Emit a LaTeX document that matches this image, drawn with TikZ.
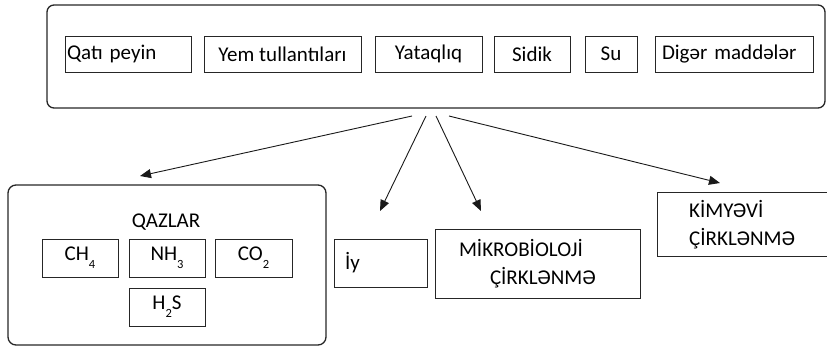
\documentclass[tikz,border=0pt]{standalone}
\usepackage{fontspec}
\setmainfont{Carlito}
\usetikzlibrary{arrows.meta}
% small lowered index for the gas formulas
\newcommand{\lowidx}[1]{\raisebox{-8pt}{\fontsize{12.5}{12.5}\selectfont #1}}
\begin{document}
\begin{tikzpicture}[x=1pt,y=-1pt,
		every node/.style={font=\fontsize{21}{28}\selectfont},
		grp/.style={draw=black!85,line width=1.3pt,rounded corners=7pt},
		item/.style={draw=black!85,line width=0.9pt,minimum height=36pt,inner ysep=0pt},
		arr/.style={-{Triangle[length=11pt,width=9pt]},line width=0.9pt,black!90}]
	\useasboundingbox (0,0) rectangle (827,346);
	% Sources: one rounded frame holding the six waste items
	\node[grp,minimum width=778pt,minimum height=103pt] (src) at (436,56.5) {};
	\node[item,minimum width=126pt,inner xsep=2pt,text width=122pt,align=left] (qati) at (128,54) {Qatı peyin};
	\foreach \nm/\cx/\w/\txt in {yem/282.5/157/Yem tullantıları, yataq/428.5/107/Yataqlıq,
		sidik/532/76/Sidik, su/611/52/Su} {
		\node[item,minimum width=\w pt] (\nm) at (\cx,54) {\txt};
	}
	\node[item,minimum width=158pt,inner xsep=7pt,text width=144pt,align=left] (diger) at (734,54) {Digər maddələr};
	% Results: gases, smell, microbiological and chemical pollution
	\node[grp,minimum width=318pt,minimum height=160pt,rounded corners=8pt] (qaz) at (167,265) {};
	\node (qazlar) at (166,222) {QAZLAR};
	\node[item,minimum width=76pt,minimum height=38pt] (ch4) at (80,258) {CH\lowidx{4}};
	\node[item,minimum width=76pt,minimum height=38pt] (nh3) at (167,258) {NH\lowidx{3}};
	\node[item,minimum width=77pt,minimum height=38pt] (co2) at (253.5,258) {CO\lowidx{2}};
	\node[item,minimum width=76pt,minimum height=38pt] (h2s) at (167,307) {H\lowidx{2}S};
	\node[item,minimum width=93pt,minimum height=48pt,inner xsep=11pt,text width=71pt,align=left] (iy) at (380.5,263) {İy};
	\node[item,minimum width=205pt,minimum height=69pt,inner xsep=24pt,text width=157pt,align=left] (mikro) at (537.5,263.5)
		{MİKROBİOLOJİ\\\hspace*{31pt}ÇİRKLƏNMƏ};
	\node[minimum height=63pt,inner xsep=32pt,inner ysep=0pt,anchor=west,align=left] (kim) at (657,224.5) {KİMYƏVİ\\ÇİRKLƏNMƏ};
	\draw[black!85,line width=0.9pt] (kim.north east) -- (kim.north west) -- (kim.south west) -- (kim.south east);
	% arrows leave just under the frame
	\coordinate (o1) at (412,116);
	\coordinate (o2) at (426,116);
	\coordinate (o3) at (436,116);
	\coordinate (o4) at (449,116);
	\coordinate (t1) at (140,176);
	\coordinate (t2) at (380,211);
	\coordinate (t3) at (481,211);
	\coordinate (t4) at (720,183);
	\foreach \i in {1,...,4} {
		\draw[arr] (o\i) -- (t\i);
	}
\end{tikzpicture}
\end{document}
